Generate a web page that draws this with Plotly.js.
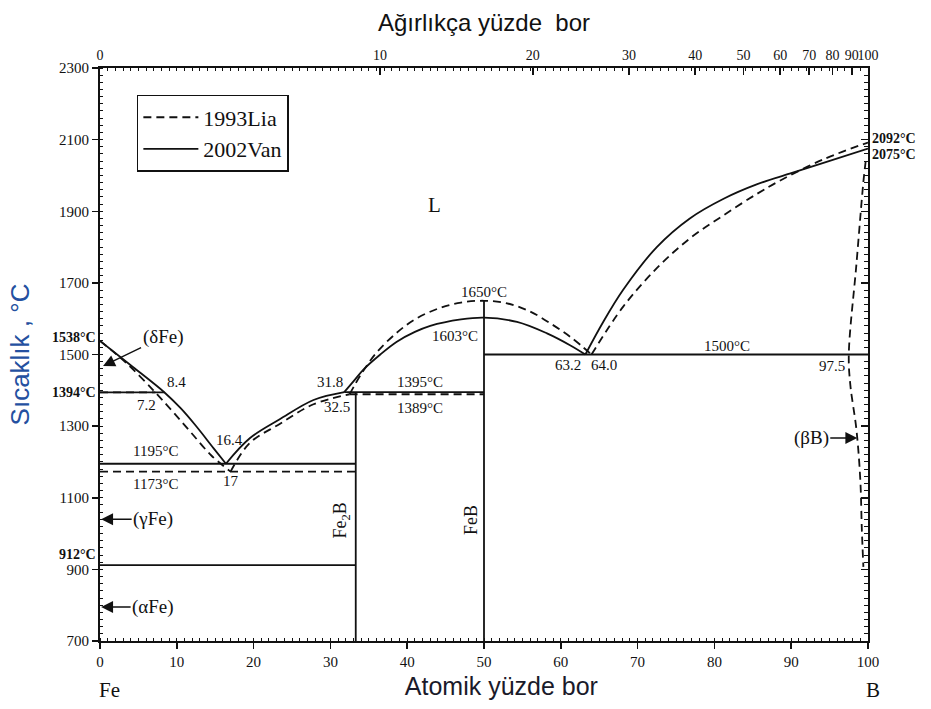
<!DOCTYPE html>
<html><head><meta charset="utf-8">
<script src="https://cdn.plot.ly/plotly-3.0.1.min.js"></script>
<style>html,body{margin:0;padding:0;background:#fff;}#chart{width:931px;height:709px;}</style>
</head><body><div id="chart"></div>
<script>
// ---------- data (atomic % B, temperature °C) ----------
// 2002Van (solid)
const vanLiqLeftX = [0, 4.0, 8.4, 10.5, 12.4, 14.8, 16.4];
const vanLiqLeftY = [1538, 1470, 1394, 1350, 1303, 1238, 1195];
const vanLiqRiseX = [16.4, 19.5, 23.4, 27.8, 31.8];
const vanLiqRiseY = [1195, 1266, 1319, 1373, 1395];
const vanLiqDomeX = [31.8, 33.0, 34.3, 36.5, 38.6, 41.0, 43.0, 47.0, 50.0, 54.3, 58.2, 61.2, 63.2];
const vanLiqDomeY = [1395, 1425, 1458, 1500, 1535, 1563, 1580, 1598, 1603, 1591, 1559, 1526, 1500];
const vanLiqRightX = [63.2, 65.5, 68.1, 72.5, 76.8, 81.2, 85.5, 89.8, 94.2, 100];
const vanLiqRightY = [1500, 1590, 1680, 1800, 1880, 1935, 1975, 2005, 2035, 2075];
const vanIsoT  = [1394, 1195, 912, 1395, 1500];
const vanIsoX0 = [0, 0, 0, 31.8, 50];
const vanIsoX1 = [8.4, 33.3, 33.3, 50, 100];
const compoundX   = [33.3, 50];
const compoundTop = [1395, 1650];
const compoundNames = ['Fe<sub>2</sub>B', 'FeB'];

// 1993Lia (dashed)
const liaLiqLeftX = [0, 3.5, 7.2, 9.5, 11.9, 14.5, 17.0];
const liaLiqLeftY = [1538, 1475, 1394, 1340, 1281, 1218, 1173];
const liaLiqRiseX = [17.0, 19.5, 23.4, 27.8, 32.5];
const liaLiqRiseY = [1173, 1253, 1306, 1361, 1389];
const liaLiqDomeX = [32.5, 34.0, 36.0, 38.6, 41.0, 44.0, 47.0, 50.0, 53.0, 56.0, 59.0, 61.5, 64.0];
const liaLiqDomeY = [1389, 1445, 1505, 1560, 1598, 1628, 1645, 1650, 1643, 1620, 1582, 1545, 1500];
const liaLiqRightX = [64.0, 68.1, 72.5, 76.8, 81.2, 85.5, 88.5, 94.2, 100];
const liaLiqRightY = [1500, 1633, 1741, 1824, 1889, 1948, 1985, 2045, 2092];
const liaBetaX = [99.7, 99.4, 98.5, 97.5, 97.7, 98.5, 99.0, 99.2, 99.4];
const liaBetaY = [2040, 1982, 1754, 1500, 1415, 1289, 1149, 1009, 907];
const liaIsoT  = [1394, 1173, 1389];
const liaIsoX0 = [0, 0, 32.5];
const liaIsoX1 = [7.2, 33.3, 50];

// axis ticks
const wtTickLabels = [0, 10, 20, 30, 40, 50, 60, 70, 80, 90, 100];
const yTickVals = [700, 900, 1100, 1300, 1500, 1700, 1900, 2100, 2300];

// ---------- helpers ----------
const INK = '#111';
const SERIF = 'Liberation Serif, Times New Roman, serif';
const SANS = 'Liberation Sans, Arial, sans-serif';
function wtToAt(w) { const b = w / 10.81, f = (100 - w) / 55.845; return 100 * b / (b + f); }
function segs(x0s, x1s, ts) {
  const x = [], y = [];
  ts.forEach((t, i) => { x.push(x0s[i], x1s[i], null); y.push(t, t, null); });
  return {x, y};
}
function vsegs(xs, tops) {
  const x = [], y = [];
  xs.forEach((v, i) => { x.push(v, v, null); y.push(700, tops[i], null); });
  return {x, y};
}
const solid = {color: INK, width: 1.8};
const dashed = {color: INK, width: 1.8, dash: '8px,5px'};
function curve(x, y, line, name, show) {
  return {type: 'scatter', mode: 'lines', x, y, name, showlegend: !!show, legendgroup: name,
    line: Object.assign({shape: 'spline', smoothing: 1}, line), hoverinfo: 'skip'};
}
function straight(o, line, name) {
  return {type: 'scatter', mode: 'lines', x: o.x, y: o.y, name, showlegend: false, legendgroup: name,
    line: line, hoverinfo: 'skip', connectgaps: false};
}

const traces = [
  curve(liaLiqLeftX, liaLiqLeftY, dashed, '1993Lia', true),
  curve(vanLiqLeftX, vanLiqLeftY, solid, '2002Van', true),
  curve(liaLiqRiseX, liaLiqRiseY, dashed, '1993Lia'),
  curve(liaLiqDomeX, liaLiqDomeY, dashed, '1993Lia'),
  curve(liaLiqRightX, liaLiqRightY, dashed, '1993Lia'),
  curve(liaBetaX, liaBetaY, dashed, '1993Lia'),
  straight(segs(liaIsoX0, liaIsoX1, liaIsoT), dashed, '1993Lia'),
  curve(vanLiqRiseX, vanLiqRiseY, solid, '2002Van'),
  curve(vanLiqDomeX, vanLiqDomeY, solid, '2002Van'),
  curve(vanLiqRightX, vanLiqRightY, solid, '2002Van'),
  straight(segs(vanIsoX0, vanIsoX1, vanIsoT), solid, '2002Van'),
  straight(vsegs(compoundX, compoundTop), solid, '2002Van')
];

// ---------- annotations ----------
const lab = (x, y, text, extra) => Object.assign({x, y, xref: 'x', yref: 'y', text, showarrow: false,
  font: {family: SERIF, size: 15, color: INK}}, extra || {});
const arrowLab = (x, y, text, ax, ay) => ({x, y, xref: 'x', yref: 'y', text, showarrow: true, ax, ay: ay || 0,
  arrowhead: 2, arrowsize: 1.7, arrowwidth: 1.4, arrowcolor: INK, font: {family: SERIF, size: 19, color: INK}});
const annotations = [
  lab(43.6, 1917, 'L', {font: {family: SERIF, size: 21, color: INK}}),
  lab(10.0, 1423, '8.4'), lab(6.0, 1359, '7.2'),
  lab(16.9, 1261, '16.4'), lab(17.1, 1146, '17'),
  lab(7.2, 1230, '1195°C'), lab(7.2, 1138, '1173°C'),
  lab(29.9, 1423, '31.8'), lab(30.9, 1353, '32.5'),
  lab(41.7, 1423, '1395°C'), lab(41.7, 1350, '1389°C'),
  lab(50.0, 1674, '1650°C'), lab(46.2, 1551, '1603°C'),
  lab(60.9, 1470, '63.2'), lab(65.6, 1470, '64.0'),
  lab(81.6, 1523, '1500°C'), lab(95.3, 1468, '97.5'),
  lab(31.4, 1037, compoundNames[0], {textangle: -90, font: {family: SERIF, size: 18, color: INK}}),
  lab(48.4, 1037, compoundNames[1], {textangle: -90, font: {family: SERIF, size: 18, color: INK}}),
  // arrows to phases
  arrowLab(0.4, 1468, '(δFe)', 60, -29),
  arrowLab(0.15, 1040, '(γFe)', 52),
  arrowLab(0.15, 795, '(αFe)', 52),
  arrowLab(98.6, 1267, '(βB)', -46),
  // special temperatures on the axes
  {x: 0, y: 1538, xref: 'paper', yref: 'y', text: '<b>1538°C</b>', showarrow: false, xanchor: 'right', yanchor: 'middle', xshift: -2, yshift: 3,
   font: {family: SERIF, size: 14, color: INK}},
  {x: 0, y: 1394, xref: 'paper', yref: 'y', text: '<b>1394°C</b>', showarrow: false, xanchor: 'right', yanchor: 'middle', xshift: -2, yshift: 0,
   font: {family: SERIF, size: 14, color: INK}},
  {x: 0, y: 912, xref: 'paper', yref: 'y', text: '<b>912°C</b>', showarrow: false, xanchor: 'right', yanchor: 'middle', xshift: -2, yshift: 11,
   font: {family: SERIF, size: 14, color: INK}},
  {x: 1, y: 2092, xref: 'paper', yref: 'y', text: '<b>2092°C</b>', showarrow: false, xanchor: 'left', yanchor: 'middle', xshift: 2, yshift: 4,
   font: {family: SERIF, size: 14, color: INK}},
  {x: 1, y: 2075, xref: 'paper', yref: 'y', text: '<b>2075°C</b>', showarrow: false, xanchor: 'left', yanchor: 'middle', xshift: 2, yshift: -6,
   font: {family: SERIF, size: 14, color: INK}},
  {x: 0.013, y: -0.086, xref: 'paper', yref: 'paper', text: 'Fe', showarrow: false, xanchor: 'center', yanchor: 'middle',
   font: {family: SERIF, size: 21, color: INK}},
  {x: 1.0065, y: -0.086, xref: 'paper', yref: 'paper', text: 'B', showarrow: false, xanchor: 'center', yanchor: 'middle',
   font: {family: SERIF, size: 21, color: INK}}
];

const tickFont = {family: SERIF, size: 15, color: INK};
const NB = '\u00a0';
const layout = {
  width: 931, height: 709,
  margin: {l: 100, r: 63, t: 68, b: 68},
  paper_bgcolor: '#fff', plot_bgcolor: '#fff',
  showlegend: true,
  legend: {x: 0.048, y: 0.953, xanchor: 'left', yanchor: 'top', bgcolor: '#fff',
    bordercolor: INK, borderwidth: 1.5, font: {family: SERIF, size: 22, color: INK},
    traceorder: 'normal', itemwidth: 55, tracegroupgap: 0},
  xaxis: {range: [0, 100], showgrid: false, zeroline: false, showline: true, linecolor: INK, linewidth: 2,
    tick0: 0, dtick: 10, ticks: 'outside', ticklen: 6, tickwidth: 1.5, tickcolor: INK, tickfont: tickFont, tickangle: 0,
    minor: {dtick: 1, ticks: 'inside', ticklen: 3, tickwidth: 1, tickcolor: INK},
    title: {text: '\u200b' + NB.repeat(5) + 'Atomik yüzde bor', font: {family: SANS, size: 25, color: '#1a1a2a'}, standoff: 8},
    automargin: false},
  xaxis2: {range: [0, 100], overlaying: 'x', side: 'top', anchor: 'y', showgrid: false, zeroline: false,
    showline: true, linecolor: INK, linewidth: 2,
    tickmode: 'array', tickvals: wtTickLabels.map(wtToAt), ticktext: wtTickLabels.map(String), tickangle: 0,
    ticks: 'inside', ticklen: 7, tickwidth: 1.5, tickcolor: INK, tickfont: {family: SERIF, size: 14, color: INK},
    minor: {tickmode: 'array', tickvals: Array.from({length: 101}, (_, i) => i), ticks: 'inside', ticklen: 3, tickwidth: 1, tickcolor: INK},
    title: {text: 'Ağırlıkça yüzde' + NB + ' bor', font: {family: SANS, size: 24, color: '#111'}, standoff: 10},
    automargin: false},
  yaxis: {range: [700, 2300], showgrid: false, zeroline: false, showline: true, linecolor: INK, linewidth: 2,
    tickmode: 'array', tickvals: yTickVals, ticks: 'outside', ticklen: 6, tickwidth: 1.5, tickcolor: INK, tickfont: tickFont,
    minor: {tick0: 700, dtick: 20, ticks: 'inside', ticklen: 3, tickwidth: 1, tickcolor: INK},
    title: {text: 'Sıcaklık , °C', font: {family: SANS, size: 26, color: '#2450a0'}, standoff: 22},
    automargin: false},
  yaxis2: {range: [700, 2300], overlaying: 'y', side: 'right', anchor: 'x', showgrid: false, zeroline: false,
    showline: true, linecolor: INK, linewidth: 2, showticklabels: false,
    tick0: 700, dtick: 200, ticks: 'inside', ticklen: 7, tickwidth: 1.5, tickcolor: INK,
    minor: {tick0: 700, dtick: 20, ticks: 'inside', ticklen: 4, tickwidth: 1, tickcolor: INK},
    automargin: false},
  annotations
};
// invisible trace to activate the top and right axes
traces.push({type: 'scatter', mode: 'markers', x: [null], y: [null], xaxis: 'x2', yaxis: 'y2', showlegend: false, hoverinfo: 'skip'});

Plotly.newPlot('chart', traces, layout, {displayModeBar: false, staticPlot: true});
</script></body></html>
